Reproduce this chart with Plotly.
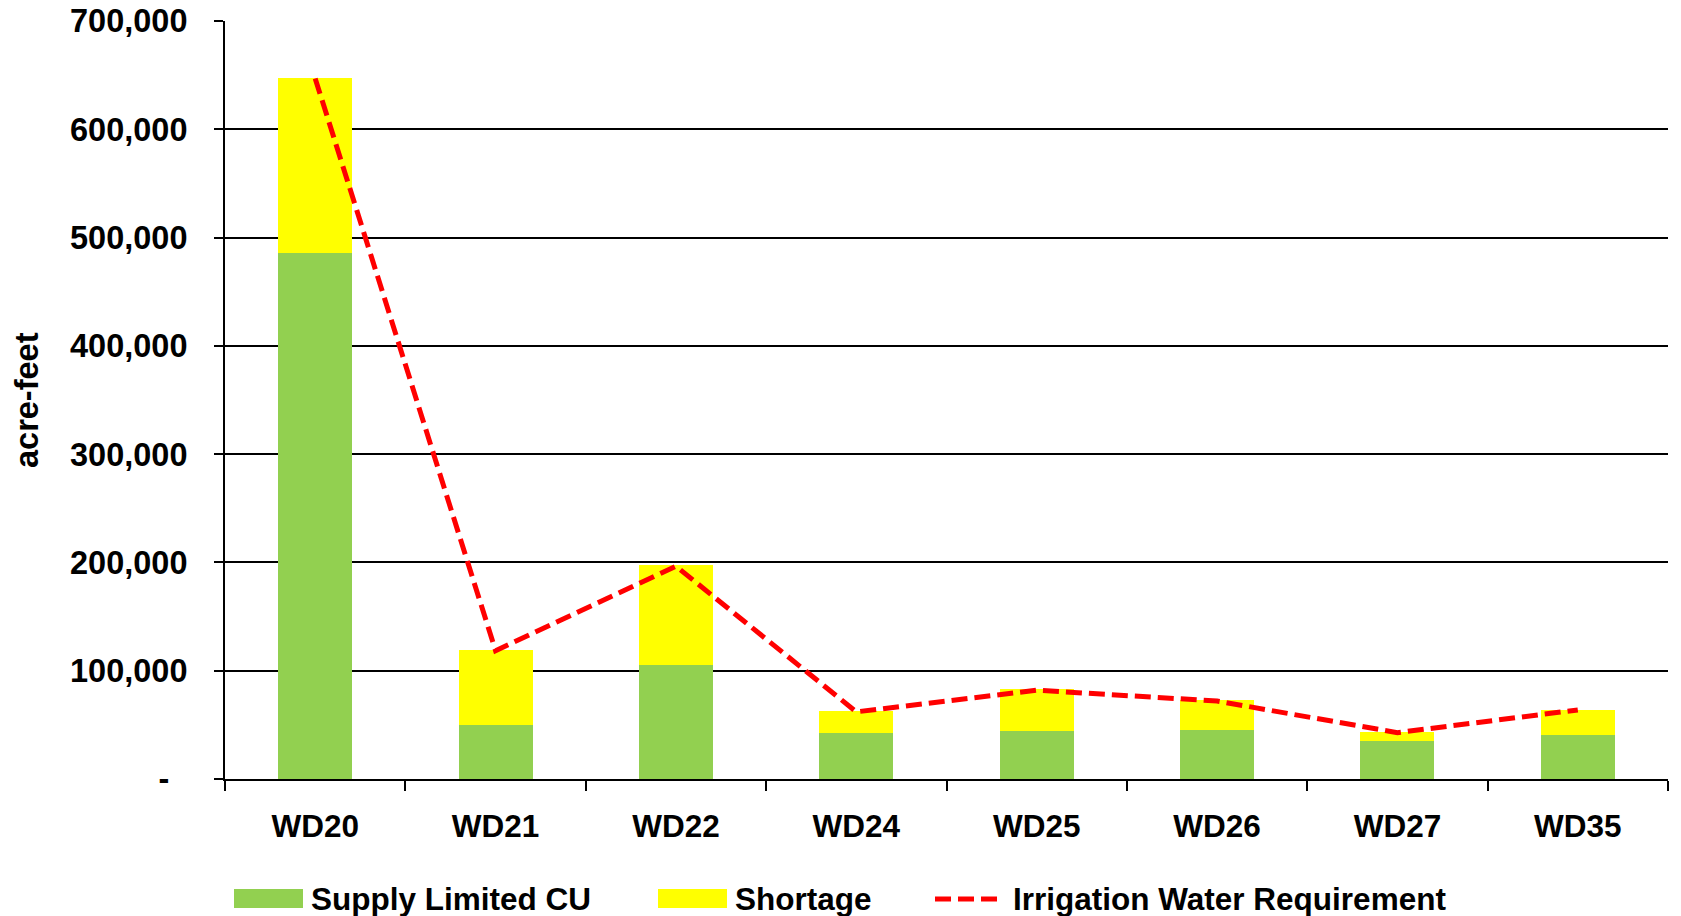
import plotly.graph_objects as go

# Water districts and annual totals (acre-feet)
districts = ["WD20", "WD21", "WD22", "WD24", "WD25", "WD26", "WD27", "WD35"]
supply_limited_cu = [486000, 50000, 105600, 42800, 44600, 45300, 35400, 40700]
shortage = [161000, 69000, 91900, 20000, 38300, 27700, 8000, 23300]
irrigation_water_requirement = [647000, 118500, 196500, 62000, 82000, 72000, 42800, 63800]

y_tick_values = [0, 100000, 200000, 300000, 400000, 500000, 600000, 700000]
y_tick_labels = ["-\u00a0\u00a0", "100,000", "200,000", "300,000", "400,000",
                 "500,000", "600,000", "700,000"]

GREEN = "#92D050"
YELLOW = "#FFFF00"
RED = "#FF0000"
FONT = "Liberation Sans, Arial, sans-serif"
DASH = "16px,7px"

W, H = 1681, 916
M_L, M_R, M_T, M_B = 225, 13, 21, 137
PW, PH = W - M_L - M_R, H - M_T - M_B


def px_x(x):
    return (x - M_L) / PW


def px_y(y):
    return (H - M_B - y) / PH


fig = go.Figure()
fig.add_trace(go.Bar(name="Supply Limited CU", x=districts, y=supply_limited_cu,
                     marker=dict(color=GREEN, line=dict(width=0))))
fig.add_trace(go.Bar(name="Shortage", x=districts, y=shortage,
                     marker=dict(color=YELLOW, line=dict(width=0))))
fig.add_trace(go.Scatter(name="Irrigation Water Requirement", x=districts,
                         y=irrigation_water_requirement, mode="lines",
                         line=dict(color=RED, width=5, dash=DASH)))

# Legend row drawn beneath the axis
legend_y = 899
shapes = [
    dict(type="rect", xref="paper", yref="paper",
         x0=px_x(234), x1=px_x(303), y0=px_y(908), y1=px_y(889),
         fillcolor=GREEN, line=dict(width=0)),
    dict(type="rect", xref="paper", yref="paper",
         x0=px_x(658), x1=px_x(727), y0=px_y(908), y1=px_y(889),
         fillcolor=YELLOW, line=dict(width=0)),
    dict(type="line", xref="paper", yref="paper",
         x0=px_x(935), x1=px_x(998), y0=px_y(legend_y), y1=px_y(legend_y),
         line=dict(color=RED, width=5, dash=DASH)),
]
annotations = [
    dict(text="Supply Limited CU", x=px_x(309), y=px_y(legend_y)),
    dict(text="Shortage", x=px_x(733), y=px_y(legend_y)),
    dict(text="Irrigation Water Requirement", x=px_x(1011), y=px_y(legend_y)),
]
for a in annotations:
    a.update(xref="paper", yref="paper", xanchor="left", yanchor="middle",
             showarrow=False, font=dict(family=FONT, size=31.5, color="black", weight="bold"))
annotations.append(dict(text="acre-feet", textangle=-90, xref="paper", yref="paper",
                        x=px_x(27), y=0.5, xanchor="center", yanchor="middle",
                        showarrow=False,
                        font=dict(family=FONT, size=32.5, color="black", weight="bold")))

fig.update_layout(
    width=W, height=H,
    margin=dict(l=M_L, r=M_R, t=M_T, b=M_B, pad=0),
    barmode="stack", bargap=0.59,
    plot_bgcolor="white", paper_bgcolor="white",
    showlegend=False,
    shapes=shapes, annotations=annotations,
    font=dict(family=FONT, size=31.5, color="black", weight="bold"),
)
fig.update_xaxes(
    type="category", showgrid=False, showline=True, linecolor="black", linewidth=2,
    ticks="outside", tickson="boundaries", ticklen=10, tickwidth=2, tickcolor="black",
    tickfont=dict(family=FONT, size=31.5, color="black", weight="bold"),
    ticklabelstandoff=18, automargin=False,
)
fig.update_yaxes(
    range=[0, 700000], tickvals=y_tick_values, ticktext=y_tick_labels,
    showgrid=True, gridcolor="black", gridwidth=2, zeroline=False,
    showline=True, linecolor="black", linewidth=2,
    ticks="outside", ticklen=9, tickwidth=2, tickcolor="black",
    tickfont=dict(family=FONT, size=32.5, color="black", weight="bold"),
    ticklabelstandoff=20, automargin=False,
)

fig.write_html("out.html")
